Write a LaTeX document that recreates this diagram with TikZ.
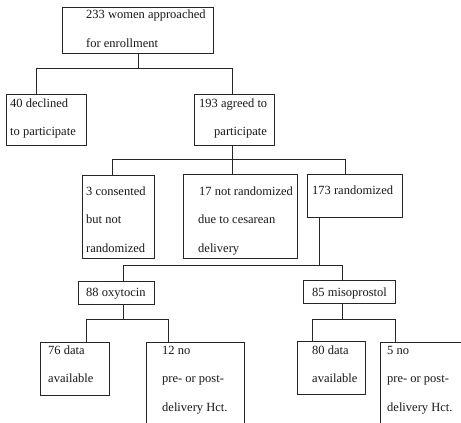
\documentclass[tikz,border=0pt]{standalone}
\usepackage{fontspec}
\setmainfont{Liberation Serif}
\usetikzlibrary{positioning}

\tikzset{box/.style={draw=black!85, line width=0.9pt, anchor=north west, inner sep=0pt},
         txt/.style={anchor=base west, inner sep=0pt, align=left, text=black!90,
                      font=\fontsize{12.5}{28.5}\selectfont},
         link/.style={draw=black!85, line width=0.9pt}}

\begin{document}
\begin{tikzpicture}[x=1pt, y=-1pt]
                \useasboundingbox (0,0) rectangle (461,423);
                \clip (0,0) rectangle (461,423);
                \fill[white] (0,0) rectangle (461,423);
                % boxes
                \node[box, minimum width=151pt, minimum height=46pt] (women) at (62,7) {};
                \node[box, minimum width=80pt, minimum height=51pt] (declined) at (6,94) {};
                \node[box, minimum width=80pt, minimum height=51pt] (agreed) at (194,94) {};
                \node[box, minimum width=72pt, minimum height=83pt] (consented) at (82,175) {};
                \node[box, minimum width=114pt, minimum height=84pt] (cesarean) at (183,174) {};
                \node[box, minimum width=95pt, minimum height=43pt] (randomized) at (307,174) {};
                \node[box, minimum width=76pt, minimum height=23pt] (oxytocin) at (78,281) {};
                \node[box, minimum width=92pt, minimum height=23pt] (misoprostol) at (303,280) {};
                \node[box, minimum width=69pt, minimum height=53pt] (availA) at (40,342) {};
                \node[box, minimum width=98pt, minimum height=90pt] (nohctA) at (146,342) {};
                \node[box, minimum width=68pt, minimum height=53pt] (availB) at (297,341) {};
                \node[box, minimum width=95pt, minimum height=90pt] (nohctB) at (380,342) {};
                % texts (placed at the baseline of their last line)
                \node[txt] (t-women) at (86,47.5) {233 women approached\\for enrollment};
                \node[txt] (t-declined) at (10,135.5) {40 declined\\to participate};
                \node[txt] (t-agreed) at (199,135.5) {193 agreed to\\\hspace*{15pt}participate};
                \node[txt] (t-consented) at (86,252) {3 consented\\but not\\randomized};
                \node[txt] (t-cesarean) at (198,252) {\hspace*{1pt}17 not randomized\\due to cesarean\\delivery};
                \node[txt] (t-randomized) at (312,194) {173 randomized};
                \node[txt] (t-oxytocin) at (86,296) {88 oxytocin};
                \node[txt] (t-misoprostol) at (312,296) {85 misoprostol};
                \node[txt] (t-availA) at (48,382.5) {76 data\\available};
                \node[txt] (t-nohctA) at (162,411) {12 no\\pre- or post-\\delivery Hct.};
                \node[txt] (t-availB) at (312,382.5) {80 data\\available};
                \node[txt] (t-nohctB) at (387,411) {5 no\\pre- or post-\\delivery Hct.};
                % bus coordinates
                \coordinate (b1l) at (36,68);   \coordinate (b1r) at (232,68);
                \coordinate (b2l) at (112,159); \coordinate (b2m) at (232,159); \coordinate (b2r) at (345,159);
                \coordinate (b3m) at (319,265); \coordinate (b3l) at (123,265); \coordinate (b3r) at (342,265);
                \coordinate (b4l) at (86,319);  \coordinate (b4m) at (123,319); \coordinate (b4r) at (168,319);
                \coordinate (b5l) at (312,319); \coordinate (b5m) at (342,319); \coordinate (b5r) at (395,319);
                % connectors
                \draw[link] (women.south) -- (women.south |- b1l);
                \draw[link] (b1l) -- (b1r);
                \draw[link] (b1l) -- (b1l |- declined.north);
                \draw[link] (b1r) -- (b1r |- agreed.north);
                \draw[link] (b2m |- agreed.south) -- (b2m);
                \draw[link] (b2l) -- (b2r);
                \draw[link] (b2l) -- (b2l |- consented.north);
                \draw[link] (b2m) -- (b2m |- cesarean.north);
                \draw[link] (b2r) -- (b2r |- randomized.north);
                \draw[link] (b3m |- randomized.south) -- (b3m);
                \draw[link] (b3l) -- (b3r);
                \draw[link] (b3l) -- (b3l |- oxytocin.north);
                \draw[link] (b3r) -- (b3r |- misoprostol.north);
                \draw[link] (b4m |- oxytocin.south) -- (b4m);
                \draw[link] (b4l) -- (b4r);
                \draw[link] (b4l) -- (b4l |- availA.north);
                \draw[link] (b4r) -- (b4r |- nohctA.north);
                \draw[link] (b5m |- misoprostol.south) -- (b5m);
                \draw[link] (b5l) -- (b5r);
                \draw[link] (b5l) -- (b5l |- availB.north);
                \draw[link] (b5r) -- (b5r |- nohctB.north);
\end{tikzpicture}
\end{document}
